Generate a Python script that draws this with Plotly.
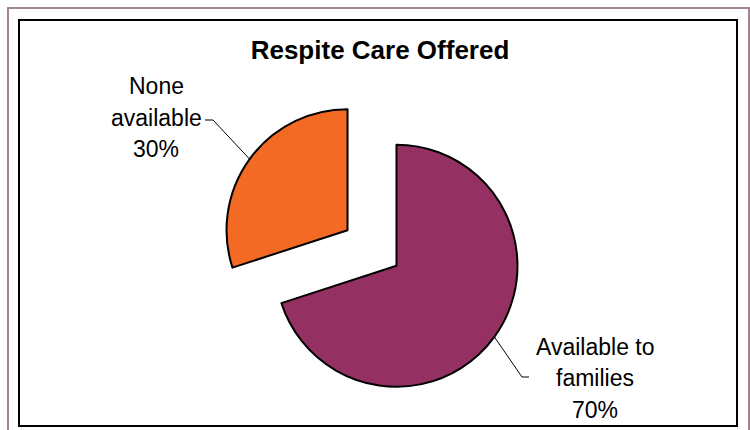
import math
import plotly.graph_objects as go

# ---- data ----
labels = ["Available to families", "None available"]
label_lines = [["Available to", "families"], ["None", "available"]]
values = [70, 30]
colors = ["#943162", "#F26A24"]
title_text = "Respite Care Offered"

# ---- geometry / style ----
W, H = 750, 430
CX, CY = 372, 248      # pie centre (px)
R = 121                # slice radius (px)
PULL = 0.25
FONT = "Liberation Sans, Arial, sans-serif"
LINE_GAP = 31.5        # px between label lines

half = R * (1 + PULL)
domain_x = [(CX - half) / W, (CX + half) / W]
domain_y = [1 - (CY + half) / H, 1 - (CY - half) / H]


def px(x, y):
    return x / W, 1 - y / H


fig = go.Figure(
    go.Pie(
        labels=labels,
        values=values,
        sort=False,
        direction="clockwise",
        rotation=0,
        pull=[PULL] * len(values),
        marker=dict(colors=colors, line=dict(color="black", width=2)),
        textinfo="none",
        hoverinfo="label+percent",
        domain=dict(x=domain_x, y=domain_y),
        showlegend=False,
    )
)

# label positions (centre of middle line), elbow, end of horizontal tick (px)
label_pos = [(595, 378), (156, 117.5)]
elbows = [((522, 377), (529, 377)), ((213, 120), (205, 120))]

total = sum(values)
cum = 0
shapes = []
annotations = []
for i, v in enumerate(values):
    theta = 2 * math.pi * (cum + v / 2) / total
    cum += v
    dx, dy = math.sin(theta), -math.cos(theta)
    sx = CX + PULL * R * dx + R * dx
    sy = CY + PULL * R * dy + R * dy
    (ex, ey), (tx, ty) = elbows[i]
    pts = [px(sx, sy), px(ex, ey), px(tx, ty)]
    path = "M {} {} L {} {} L {} {}".format(*[c for p in pts for c in p])
    shapes.append(dict(type="path", xref="paper", yref="paper", path=path,
                       line=dict(color="black", width=1)))
    pct = round(100 * v / total)
    lines = label_lines[i] + [f"{pct}%"]
    cx_, cy_ = label_pos[i]
    for k, t in enumerate(lines):
        lx, ly = px(cx_, cy_ + (k - 1) * LINE_GAP)
        annotations.append(dict(
            x=lx, y=ly, xref="paper", yref="paper", showarrow=False,
            text=t, align="center", xanchor="center", yanchor="middle",
            font=dict(family=FONT, size=23, color="black"),
        ))

# borders
x0, y0 = px(8, 8)
x1, y1 = px(749, 445)
shapes.append(dict(type="rect", xref="paper", yref="paper", x0=x0, y0=y1, x1=x1, y1=y0,
                   line=dict(color="#A08494", width=2)))
x0, y0 = px(19, 20)
x1, y1 = px(737, 426)
shapes.append(dict(type="rect", xref="paper", yref="paper", x0=x0, y0=y1, x1=x1, y1=y0,
                   line=dict(color="black", width=2)))

fig.update_layout(
    width=W, height=H,
    margin=dict(l=0, r=0, t=0, b=0),
    paper_bgcolor="white",
    plot_bgcolor="white",
    title=dict(text=f"<b>{title_text}</b>", x=380 / W, xanchor="center",
               y=1 - 49.5 / H, yanchor="middle", yref="container",
               font=dict(family=FONT, size=26, color="black")),
    shapes=shapes,
    annotations=annotations,
)

fig.write_html("out.html", config={"displayModeBar": False},
               post_script="document.body.style.margin='0';")
